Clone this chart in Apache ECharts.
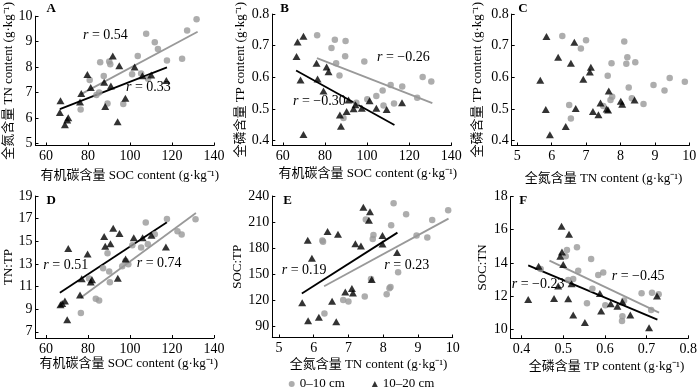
<!DOCTYPE html>
<html><head><meta charset="utf-8">
<script src="https://cdn.jsdelivr.net/npm/echarts@6/dist/echarts.min.js"></script>
<style>html,body{margin:0;padding:0;background:#fff}#c{width:700px;height:388px}</style>
</head><body><div id="c"></div>
<script>
// ---- Data ----
const seriesNames = ['0–10 cm', '10–20 cm'];
// Panel A: SOC (x) vs TN (y)
const A_0_10 = [[131.7,9.88],[127.2,9.44],[107.7,9.31],[111.8,8.98],[113.3,8.71],[103.7,8.44],[124.8,8.33],[117.6,8.26],[85.8,8.19],[90.1,8.22],[90.6,8.11],[105.3,7.75],[101.0,7.72],[87.5,7.65],[108.6,7.54],[80.8,7.49],[85.3,7.00],[84.0,6.90],[76.5,6.33],[89.3,6.57],[96.8,6.55]];
const A_10_20 = [[91.8,8.44],[94.9,8.05],[102.2,8.00],[79.7,7.71],[105.9,7.66],[110.1,7.69],[117.3,7.47],[87.7,7.41],[81.3,7.20],[90.9,7.26],[76.8,6.96],[97.8,6.78],[76.2,6.63],[88.2,6.45],[66.9,6.68],[66.6,6.22],[70.6,6.01],[70.1,5.92],[69.0,5.74],[94.1,5.85]];
const A_fit_0_10 = [[76.5,6.93],[132.2,9.39]];
const A_fit_10_20 = [[66.6,6.35],[117.6,7.99]];
// Panel B: SOC (x) vs TP (y)
const B_0_10 = [[76.3,0.733],[84.7,0.719],[89.8,0.715],[83.1,0.693],[89.6,0.667],[85.3,0.645],[98.7,0.650],[86.9,0.606],[111.2,0.576],[116.7,0.571],[126.4,0.601],[130.5,0.587],[107.4,0.559],[104.4,0.541],[123.8,0.536],[100.1,0.531],[107.8,0.511],[112.8,0.518],[88.8,0.472],[94.9,0.520]];
const B_10_20 = [[69.8,0.730],[67.0,0.712],[66.5,0.666],[76.0,0.645],[80.8,0.633],[81.7,0.618],[68.4,0.592],[76.5,0.595],[79.3,0.557],[91.2,0.529],[101.2,0.526],[94.5,0.514],[116.6,0.520],[104.4,0.503],[93.6,0.501],[97.5,0.503],[109.3,0.499],[90.3,0.492],[87.1,0.481],[87.6,0.446],[69.8,0.420]];
const B_fit_0_10 = [[76.2,0.661],[131.0,0.519]];
const B_fit_10_20 = [[66.3,0.622],[113.0,0.450]];
// Panel C: TN (x) vs TP (y)
const C_0_10 = [[6.31,0.731],[7.00,0.717],[6.85,0.691],[8.11,0.713],[8.20,0.664],[8.17,0.643],[8.43,0.648],[7.74,0.645],[7.63,0.605],[9.43,0.598],[8.96,0.576],[9.87,0.586],[9.28,0.559],[8.24,0.568],[7.76,0.539],[7.71,0.529],[8.33,0.534],[8.67,0.516],[6.51,0.513],[6.56,0.470],[7.50,0.510]];
const C_10_20 = [[5.85,0.729],[6.66,0.711],[6.19,0.664],[6.56,0.645],[7.14,0.632],[7.11,0.617],[5.67,0.591],[6.92,0.594],[7.66,0.557],[8.01,0.525],[8.41,0.529],[8.05,0.515],[7.42,0.519],[7.60,0.500],[7.64,0.497],[5.83,0.499],[6.70,0.502],[7.20,0.492],[7.36,0.482],[6.41,0.445],[5.95,0.419]];
// Panel D: SOC (x) vs TN:TP (y)
const D_0_10 = [[131.2,16.94],[117.6,16.97],[107.5,16.65],[122.6,15.88],[124.6,15.59],[111.8,15.62],[105.3,14.44],[108.5,14.74],[101.1,14.65],[89.3,13.94],[97.9,13.26],[99.2,12.97],[96.3,12.79],[87.2,12.62],[90.1,12.32],[80.5,11.70],[90.4,11.38],[83.7,9.91],[85.3,9.76],[76.6,8.65]];
const D_10_20 = [[92.0,16.15],[95.0,15.68],[87.7,15.41],[101.8,15.32],[106.0,15.32],[110.2,15.53],[90.7,14.79],[88.2,14.56],[117.1,14.50],[70.6,14.35],[79.8,13.88],[97.9,13.44],[77.0,11.68],[81.9,11.59],[81.3,11.41],[94.2,11.74],[76.2,10.26],[66.9,9.38],[67.7,9.50],[69.0,9.71],[70.1,8.06]];
const D_fit_0_10 = [[76.5,10.0],[131.4,17.5]];
const D_fit_10_20 = [[66.6,10.45],[117.6,16.68]];
// Panel E: TN (x) vs SOC:TP (y)
const E_0_10 = [[8.30,231.6],[8.66,218.9],[9.87,223.5],[9.41,212.4],[8.23,206.2],[7.50,212.8],[7.72,195.1],[7.70,190.5],[8.96,194.4],[9.27,192.1],[6.25,188.6],[6.27,187.4],[8.43,152.2],[8.18,133.7],[8.21,135.2],[8.10,126.8],[7.47,124.2],[6.85,120.3],[7.00,118.4],[6.31,104.6],[7.65,144.5]];
const E_10_20 = [[7.43,227.0],[7.62,222.0],[7.59,212.0],[6.40,199.0],[6.70,195.9],[7.98,194.4],[5.83,189.0],[7.20,185.1],[7.36,182.5],[7.98,184.8],[8.40,174.8],[5.95,168.3],[7.67,143.7],[6.91,129.5],[7.10,133.4],[7.13,128.4],[6.53,118.8],[5.67,116.9],[6.15,100.4],[5.84,96.2],[6.65,95.0]];
const E_fit_0_10 = [[6.30,136.1],[9.88,213.9]];
const E_fit_10_20 = [[5.66,127.6],[8.41,197.8]];
// Panel F: TP (x) vs SOC:TN (y)
const F_0_10 = [[0.446,13.63],[0.509,14.77],[0.506,14.39],[0.533,14.94],[0.567,14.23],[0.536,13.52],[0.524,13.02],[0.512,12.96],[0.596,13.42],[0.584,13.26],[0.570,12.44],[0.557,11.57],[0.601,11.45],[0.646,11.73],[0.688,12.17],[0.713,12.19],[0.729,12.11],[0.711,11.15],[0.642,10.78],[0.641,10.50]];
const F_10_20 = [[0.496,16.21],[0.514,15.72],[0.497,14.65],[0.493,14.39],[0.500,13.90],[0.441,13.79],[0.416,11.79],[0.488,12.60],[0.520,12.74],[0.478,11.85],[0.512,11.83],[0.588,12.15],[0.524,10.86],[0.552,10.40],[0.591,11.10],[0.614,11.53],[0.630,11.39],[0.642,11.65],[0.661,10.86],[0.706,10.08],[0.725,12.00]];
const F_fit_0_10 = [[0.467,14.13],[0.730,11.00]];
const F_fit_10_20 = [[0.416,13.85],[0.726,10.58]];

// Tick values
const ticksSOC = [60, 80, 100, 120, 140];
const ticksTN_x = [5, 6, 7, 8, 9, 10];
const ticksTP_x = [0.4, 0.5, 0.6, 0.7, 0.8];
const ticksTN_y = [5, 6, 7, 8, 9, 10];
const ticksTP_y = [0.4, 0.5, 0.6, 0.7, 0.8];
const ticksTNTP = [7, 9, 11, 13, 15, 17, 19];
const ticksSOCTP = [90, 120, 150, 180, 210, 240];
const ticksSOCTN = [10, 12, 14, 16, 18];

// Texts
const panelLetters = ['A', 'B', 'C', 'D', 'E', 'F'];
const rLabels = [['r', ' = 0.54'], ['r', ' = 0.33'], ['r', ' = −0.26'], ['r', ' = −0.30'], ['r', ' = 0.51'], ['r', ' = 0.74'], ['r', ' = 0.19'], ['r', ' = 0.23'], ['r', ' = −0.23'], ['r', ' = −0.45']];
const nameSOCx = '有机碳含量 SOC content (g·kg⁻¹)';
const nameTNx = '全氮含量 TN content (g·kg⁻¹)';
const nameTPx = '全磷含量 TP content (g·kg⁻¹)';
const nameTNy = '全氮含量 TN content (g·kg⁻¹)';
const nameTPy = '全磷含量 TP content (g·kg⁻¹)';

// ---- Layout ----
const FONT = "'Liberation Serif', 'Noto Sans CJK SC', serif";
const GRAY = '#999999';
const grids = [
  {left: 35.5, top: 7, width: 178.5, height: 138.5},
  {left: 272.3, top: 7, width: 179, height: 138.5},
  {left: 511.7, top: 7, width: 177.6, height: 138.5},
  {left: 35.5, top: 196, width: 178.5, height: 142},
  {left: 272.3, top: 196, width: 180.4, height: 141.5},
  {left: 510.7, top: 196.5, width: 179.3, height: 141.8}
];
function xAx(i, min, max, ticks, name, gap, shift) {
  return {type: 'value', gridIndex: i, min, max, name, nameLocation: 'middle', nameGap: gap,
    nameTextStyle: {fontFamily: FONT, fontSize: 13, color: '#000', padding: [0, 0, 0, shift * 2]},
    axisLine: {show: true, onZero: false, lineStyle: {color: '#000', width: 1}},
    axisTick: {show: true, inside: true, length: 3, customValues: ticks, lineStyle: {color: '#000'}},
    axisLabel: {customValues: ticks, margin: 4, fontFamily: FONT, fontSize: 14, color: '#000'},
    splitLine: {show: false}};
}
function yAx(i, min, max, ticks, name, gap) {
  return {type: 'value', gridIndex: i, min, max, name, nameLocation: 'middle', nameGap: gap,
    nameTextStyle: {fontFamily: FONT, fontSize: 13, color: '#000'},
    axisLine: {show: true, onZero: false, lineStyle: {color: '#000', width: 1}},
    axisTick: {show: true, inside: true, length: 3, customValues: ticks, lineStyle: {color: '#000'}},
    axisLabel: {customValues: ticks, margin: 3, fontFamily: FONT, fontSize: 14, color: '#000'},
    splitLine: {show: false}};
}
const xAxes = [
  xAx(0, 55, 140, ticksSOC, nameSOCx, 24, 5),
  xAx(1, 55, 140, ticksSOC, nameSOCx, 22, 6),
  xAx(2, 4.84, 10, ticksTN_x, nameTNx, 27, 3),
  xAx(3, 55, 140, ticksSOC, nameSOCx, 19.5, 4),
  xAx(4, 4.81, 10, ticksTN_x, nameTNx, 20.5, 6),
  xAx(5, 0.374, 0.8, ticksTP_x, nameTPx, 22, 7)
];
const yAxes = [
  yAx(0, 4.92, 10, ticksTN_y, nameTNy, 19),
  yAx(1, 0.385, 0.8, ticksTP_y, nameTPy, 25.5),
  yAx(2, 0.385, 0.8, ticksTP_y, nameTPy, 28),
  yAx(3, 6.45, 19, ticksTNTP, 'TN:TP', 19.5),
  yAx(4, 77, 240, ticksSOCTP, 'SOC:TP', 28.5),
  yAx(5, 9.45, 18, ticksSOCTN, 'SOC:TN', 21.5)
];
const scatterSets = [[A_0_10, A_10_20], [B_0_10, B_10_20], [C_0_10, C_10_20], [D_0_10, D_10_20], [E_0_10, E_10_20], [F_0_10, F_10_20]];
const fitSets = [[A_fit_0_10, A_fit_10_20], [B_fit_0_10, B_fit_10_20], null, [D_fit_0_10, D_fit_10_20], [E_fit_0_10, E_fit_10_20], [F_fit_0_10, F_fit_10_20]];
const series = [];
scatterSets.forEach((s, i) => {
  if (fitSets[i]) {
    series.push({type: 'line', name: 'fit0', xAxisIndex: i, yAxisIndex: i, data: fitSets[i][0], showSymbol: false, symbol: 'none', lineStyle: {color: GRAY, width: 1.8}, z: 1, silent: true});
    series.push({type: 'line', name: 'fit1', xAxisIndex: i, yAxisIndex: i, data: fitSets[i][1], showSymbol: false, symbol: 'none', lineStyle: {color: '#000', width: 1.8}, z: 1, silent: true});
  }
  series.push({type: 'scatter', name: seriesNames[0], xAxisIndex: i, yAxisIndex: i, data: s[0], symbol: 'circle', symbolSize: 6.5, itemStyle: {color: GRAY}, z: 2});
  series.push({type: 'scatter', name: seriesNames[1], xAxisIndex: i, yAxisIndex: i, data: s[1], symbol: 'triangle', symbolSize: [8, 7], itemStyle: {color: '#000'}, z: 3});
});
const letterPos = [[46.5, 9], [280.3, 9], [518.3, 9], [46.5, 201], [283.3, 201], [519.3, 201]];
const rPos = [[83, 35], [126, 87.3], [377, 57.3], [293, 101.7], [43.3, 265], [136.7, 263.3], [281.7, 270], [384.3, 265], [511.7, 284], [611.7, 276.7]];
const graphic = [];
panelLetters.forEach((t, i) => graphic.push({type: 'text', x: letterPos[i][0], y: letterPos[i][1], z: 10,
  style: {text: t, fontFamily: FONT, fontSize: 13, fontWeight: 'bold', fill: '#000', align: 'left', verticalAlign: 'middle'}}));
rLabels.forEach((t, i) => graphic.push({type: 'text', x: rPos[i][0], y: rPos[i][1], z: 10,
  style: {text: '{i|' + t[0] + '}' + t[1], fontFamily: FONT, fontSize: 14, fill: '#000', align: 'left', verticalAlign: 'middle',
    rich: {i: {fontFamily: FONT, fontSize: 14, fontStyle: 'italic', fill: '#000'}}}}));

const chart = echarts.init(document.getElementById('c'), null, {renderer: 'canvas'});
chart.setOption({
  animation: false,
  backgroundColor: '#fff',
  grid: grids,
  xAxis: xAxes,
  yAxis: yAxes,
  legend: {data: [{name: seriesNames[0], icon: 'circle'}, {name: seriesNames[1], icon: 'triangle'}],
    left: 288.7, top: 372.5, padding: [5, 0, 5, 0], itemWidth: 6, itemHeight: 6, itemGap: 27,
    textStyle: {fontFamily: FONT, fontSize: 13, color: '#000'}},
  series,
  graphic
});
</script></body></html>
